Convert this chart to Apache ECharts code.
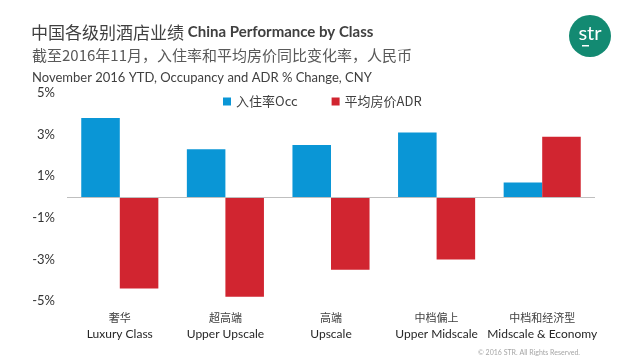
<!DOCTYPE html>
<html><head><meta charset="utf-8">
<script src="https://cdn.jsdelivr.net/npm/echarts@6/dist/echarts.min.js"></script>
<style>html,body{margin:0;padding:0;background:#fff}#c{width:640px;height:360px}</style>
</head><body><div id="c"></div>
<script>
const categoriesZh = ['奢华','超高端','高端','中档偏上','中档和经济型'];
const categoriesEn = ['Luxury Class','Upper Upscale','Upscale','Upper Midscale','Midscale & Economy'];
const occ = [3.8, 2.3, 2.5, 3.1, 0.7];
const adr = [-4.4, -4.8, -3.5, -3.0, 2.9];
const yTicks = [-5, -3, -1, 1, 3, 5];
const seriesNames = ['入住率Occ','平均房价ADR'];

const FONT = 'Lato,"Noto Sans CJK SC",sans-serif';
const CJK = '"Noto Sans CJK SC",sans-serif';
const chart = echarts.init(document.getElementById('c'));
chart.setOption({
  animation:false,
  textStyle:{fontFamily:FONT},
  title:[{
    text:'{zh|中国各级别酒店业绩 }{en|China Performance by Class}',
    left:26, top:19,
    textStyle:{fontWeight:'normal',rich:{
      zh:{fontFamily:CJK,fontSize:17,fontWeight:'normal',color:'#404040'},
      en:{fontFamily:FONT,fontSize:15,fontWeight:'bold',color:'#404040'}
    }}
  },{
    text:'截至2016年11月，入住率和平均房价同比变化率，人民币',
    left:27, top:43,
    textStyle:{fontFamily:CJK,fontSize:15,fontWeight:'normal',color:'#595959'}
  },{
    text:'November 2016 YTD, Occupancy and ADR % Change, CNY',
    left:27, top:66,
    textStyle:{fontFamily:FONT,fontSize:13,fontWeight:'normal',color:'#404040'}
  },{
    text:'© 2016 STR. All Rights Reserved.',
    left:473, top:344,
    textStyle:{fontFamily:FONT,fontSize:7,fontWeight:'normal',color:'#a6a6a6'}
  }],
  graphic:[
    {type:'circle',shape:{cx:590,cy:36,r:21},style:{fill:'#138a72'}},
    {type:'text',x:590,y:34,style:{text:'str',fill:'#fff',font:'20px Lato,sans-serif',textAlign:'center',textVerticalAlign:'middle'}},
    {type:'rect',shape:{x:582,y:45,width:7,height:1.5},style:{fill:'#fff'}}
  ],
  legend:{
    top:90, left:218, itemWidth:8, itemHeight:8, itemGap:34, icon:'rect',
    textStyle:{fontFamily:CJK,fontSize:13,color:'#404040'},
    data:seriesNames
  },
  grid:{left:67, right:45, top:93, bottom:59},
  xAxis:{
    type:'category',
    data:categoriesZh.map((z,i)=>z+'\n'+categoriesEn[i]),
    axisLine:{show:false,onZero:false},
    axisTick:{show:false},
    axisLabel:{
      margin:8, interval:0, lineHeight:17,
      formatter:function(v){const p=v.split('\n');return '{zh|'+p[0]+'}\n{en|'+p[1]+'}';},
      rich:{
        zh:{fontFamily:CJK,fontSize:11,color:'#404040',lineHeight:17},
        en:{fontFamily:FONT,fontSize:12,color:'#262626',lineHeight:17}
      }
    }
  },
  yAxis:{
    type:'value', min:-5, max:5, interval:1,
    splitLine:{show:false}, axisLine:{show:false}, axisTick:{show:false},
    axisLabel:{
      margin:12, fontSize:13, color:'#333', fontFamily:FONT,
      formatter:function(v){return yTicks.indexOf(v)>=0 ? v+'%' : '';}
    }
  },
  series:[{
    name:seriesNames[0], type:'bar', data:occ, barGap:'0%', barCategoryGap:'27%',
    itemStyle:{color:'#0a96d6'},
    markLine:{silent:true,symbol:'none',label:{show:false},lineStyle:{color:'#bfbfbf',type:'solid',width:1},data:[{yAxis:0}]}
  },{
    name:seriesNames[1], type:'bar', data:adr, barGap:'0%', barCategoryGap:'27%',
    itemStyle:{color:'#d12530'}
  }]
});
</script></body></html>
